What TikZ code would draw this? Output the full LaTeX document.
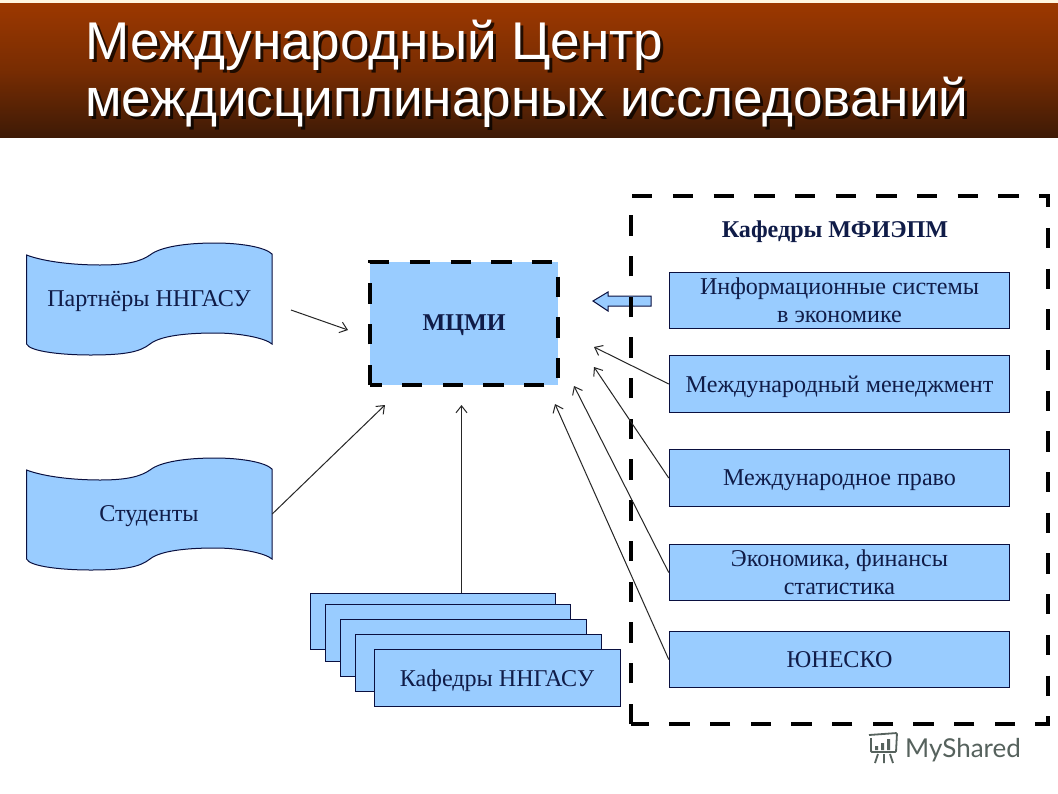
\documentclass[tikz,border=0pt]{standalone}
\usepackage{fontspec}
\setmainfont{Liberation Serif}
\newfontfamily\headfont{Liberation Sans}
\newfontfamily\markfont{Lato}
\usepackage{tikz}
\usetikzlibrary{arrows.meta}

\definecolor{boxblue}{HTML}{99CCFF}
\definecolor{boxline}{HTML}{0A1040}
\definecolor{boxtext}{HTML}{101C48}
\definecolor{bandtop}{HTML}{9C3800}
\definecolor{bandbottom}{HTML}{3E1A06}
\definecolor{bandline}{HTML}{FFF6E0}
\definecolor{markgrey}{HTML}{56625D}

\tikzset{
    label/.style={text=boxtext,font=\fontsize{24.1}{28}\selectfont,align=center,text depth=0pt},
    boldlabel/.style={label,font=\fontsize{24.1}{28}\selectfont\bfseries},
    box/.style={draw=boxline,fill=boxblue,line width=1pt},
    sidebox/.style={box,label,minimum width=340.5pt,minimum height=56.5pt,inner sep=0pt},
    link/.style={draw=black!85,line width=1pt,-{Straight Barb[length=7pt,width=11pt]}},
    dashbox/.style={draw=black,line width=4pt,dash pattern=on 20.35pt off 20.35pt},
    headtext/.style={anchor=base west,inner sep=0pt,text=white,font=\fontsize{53.1}{60}\selectfont\headfont},
    headshadow/.style={headtext,text=black,opacity=0.75}
}

\newcommand{\wave}[1]{
    \draw [box,yshift=#1] (26.5,255) .. controls (45,262) and (75,265) .. (100,265)
        .. controls (125,265) and (140,262) .. (150,255)
        .. controls (160,247) and (185,243) .. (215,243)
        .. controls (240,243) and (265,247) .. (272,254) -- (272,344)
        .. controls (265,338) and (240,333) .. (215,333)
        .. controls (185,333) and (160,336) .. (150,344)
        .. controls (140,352) and (125,355) .. (90,355)
        .. controls (65,355) and (30,352) .. (26.5,344) -- cycle ;
}

\begin{document}
\begin{tikzpicture}[x=1pt,y=-1pt]
        \useasboundingbox (0,0) rectangle (1058,793) ;
        \fill [white] (0,0) rectangle (1058,793) ;

        \fill [bandline] (0,0) rectangle (1058,3) ;
        \shade [top color=bandtop,bottom color=bandbottom,middle color=bandtop!62!bandbottom] (0,3) rectangle (1058,137) ;
        \node [headshadow] (titleoneshadow) at (88,62) {Международный Центр} ;
        \node [headshadow] (titletwoshadow) at (88,119) {междисциплинарных исследований} ;
        \node [headtext] (titleone) at (85,59) {Международный Центр} ;
        \node [headtext] (titletwo) at (85,116) {междисциплинарных исследований} ;

        \wave{0pt}
        \node [label,minimum width=246pt,minimum height=90pt] (partners) at (149,299) {Партнёры ННГАСУ} ;
        \wave{-215pt}
        \node [label,minimum width=246pt,minimum height=90pt] (students) at (149,514) {Студенты} ;

        \fill [boxblue] (370,262) rectangle (558,385) ;
        \draw [dashbox] (370,385) -- (370,262) -- (558,262) -- (558,385) -- cycle ;
        \node [boldlabel,minimum width=188pt,minimum height=123pt] (mcmi) at (464,323) {МЦМИ} ;

        \draw [box] (310,593) rectangle (555,649) ;
        \draw [box] (325,604) rectangle (570,661) ;
        \draw [box] (340,619) rectangle (586,676) ;
        \draw [box] (355,634) rectangle (601,691) ;
        \node [box,label,minimum width=246pt,minimum height=57pt] (stack) at (497,678) {Кафедры ННГАСУ} ;
        \coordinate (stacktop) at (461.5,593) ;

        \draw [box] (651,296) -- (608,296) -- (608,292) -- (593,301) -- (608,311) -- (608,306) -- (651,306) -- cycle ;
        \draw [dashbox] (631,724) -- (631,196) -- (1048,196) -- (1048,724) -- cycle ;
        \node [boldlabel] (deptitle) at (835,229) {Кафедры МФИЭПМ} ;

        \node [sidebox] (infosys) at (839.5,300.5) {Информационные системы\\в экономике} ;
        \node [sidebox] (manage) at (839.5,384) {Международный менеджмент} ;
        \node [sidebox] (law) at (839.5,478) {Международное право} ;
        \node [sidebox] (econ) at (839.5,572.5) {Экономика, финансы\\статистика} ;
        \node [sidebox] (unesco) at (839.5,659.5) {ЮНЕСКО} ;

        \coordinate (partnersout) at (291,310) ;
        \coordinate (partnersin) at (348,330) ;
        \coordinate (studentsin) at (385,405) ;
        \coordinate (stackin) at (461.5,405) ;
        \coordinate (managein) at (594,347) ;
        \coordinate (lawin) at (594,367) ;
        \coordinate (econin) at (574,386) ;
        \coordinate (unescoin) at (555,404) ;

        \draw [link] (partnersout) -- (partnersin) ;
        \draw [link] (students.east) -- (studentsin) ;
        \draw [link] (stacktop) -- (stackin) ;
        \draw [link] (manage.west) -- (managein) ;
        \draw [link] (law.west) -- (lawin) ;
        \draw [link] (econ.west) -- (econin) ;
        \draw [link] (unesco.west) -- (unescoin) ;

        \draw [markgrey,line width=1.8pt,rounded corners=1pt] (869,735) -- (897,733) -- (896,752) -- (871,752) -- (871,738) ;
        \fill [markgrey] (875,746) rectangle (878,750) (881,743) rectangle (884,750) (887,739) rectangle (890,750) ;
        \draw [markgrey,line width=1.8pt] (878,754) -- (875,763) (884,754) -- (884,763) (890,754) -- (893,763) ;
        \node [anchor=base west,text=markgrey,inner sep=0pt,font=\fontsize{26}{30}\selectfont\markfont] (myshared) at (905,757) {MyShared} ;
    \end{tikzpicture}
\end{document}
